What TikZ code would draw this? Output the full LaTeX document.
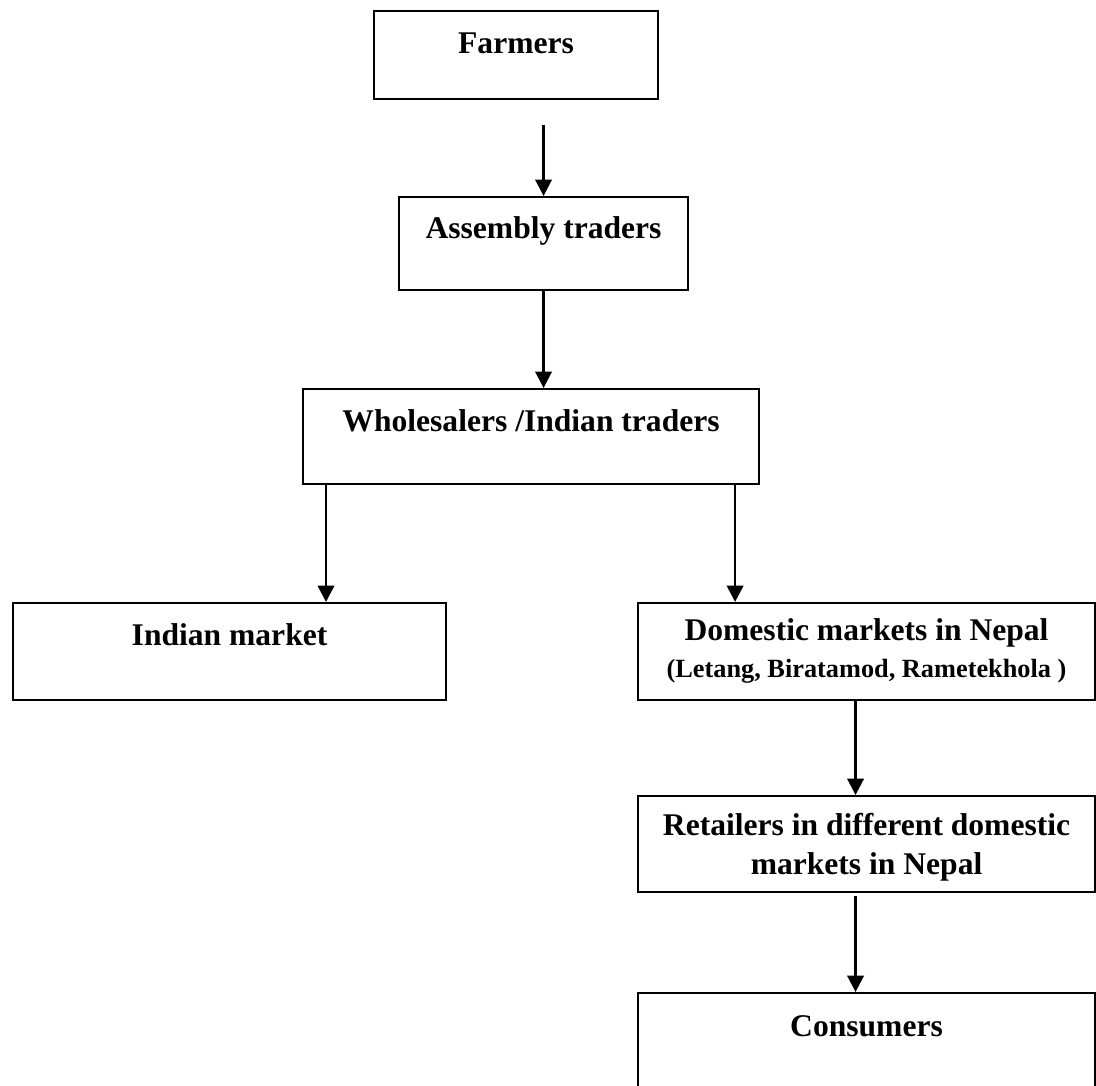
\documentclass[tikz,border=0pt]{standalone}
\usepackage{fontspec}
\setmainfont{Liberation Serif}
\usetikzlibrary{arrows.meta,calc}
\newcommand{\pxs}{0.38pt}
\newcommand{\stage}[7]{
	\pgfmathsetlengthmacro\stagew{#4*\pxs}
	\pgfmathsetlengthmacro\stageh{#5*\pxs}
	\pgfmathsetlengthmacro\staged{#6*\pxs}
	\node[stage, minimum width=\stagew, text height=\stageh, text depth=\staged] (#1) at (#2,#3) {#7};
	}

\begin{document}
\begin{tikzpicture}[
      x=\pxs, y=-\pxs, %one unit is one pixel of the page
      stage/.style={draw, line width=0.8pt, anchor=north west, inner sep=0pt, align=center, font=\fontsize{12}{14.8}\selectfont\bfseries},
      flow/.style={line width=1pt, -{Triangle[width=6.2pt,length=6.2pt]}}
    ]
    \useasboundingbox (0,0) rectangle (1096,1086);
    % Draw the stages of the chain (height is taken to the last baseline)
    \stage{farm}{373}{10}{284}{42}{46}{Farmers};
    \stage{asm}{398}{196}{289}{41}{52}{Assembly traders};
    \stage{whole}{302}{388}{456}{42}{53}{Wholesalers /Indian traders};
    \stage{ind}{12}{602}{433}{42}{55}{Indian market};
    \stage{dom}{637}{602}{457}{74}{23}{Domestic markets in Nepal\\[-0.8pt]{\fontsize{10}{12}\selectfont (Letang, Biratamod, Rametekhola )}};
    \stage{ret}{637}{795}{457}{78}{18}{Retailers in different domestic\\markets in Nepal};
    \stage{cons}{637}{992}{457}{43}{65}{Consumers};
    % Feet of the arrows
    \coordinate (wl) at ($(whole.south west)+(24,0)$);
    \coordinate (wr) at ($(whole.south east)+(-25,0)$);
    \coordinate (dr) at ($(dom.south)+(-11,0)$);
    % Draw the flows
    \draw[flow] ($(farm.south -| asm.north)+(0,25)$) -- (asm.north);
    \draw[flow] (asm.south) -- (asm.south |- whole.north);
    \draw[flow] (wl) -- (wl |- ind.north);
    \draw[flow] (wr) -- (wr |- dom.north);
    \draw[flow] (dr) -- (dr |- ret.north);
    \draw[flow] ($(dr |- ret.south)+(0,3)$) -- (dr |- cons.north);
\end{tikzpicture}
\end{document}
